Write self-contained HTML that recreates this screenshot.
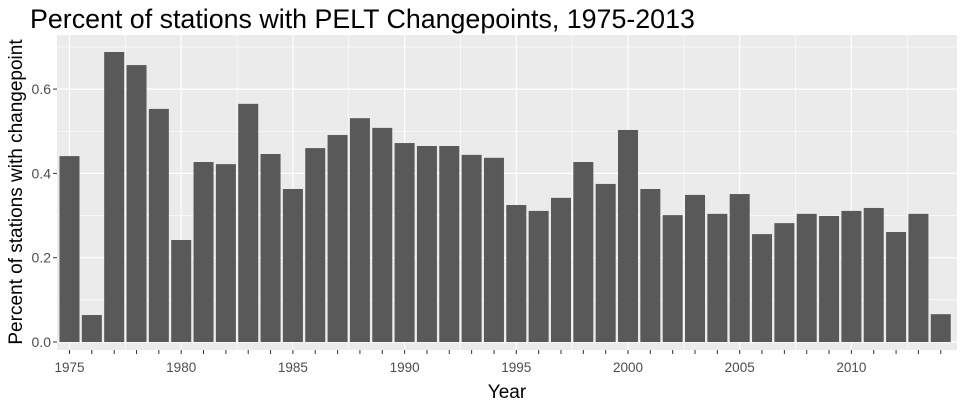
<!DOCTYPE html>
<html><head><meta charset="utf-8"><style>
body{margin:0;background:#fff}
svg{display:block;font-family:"Liberation Sans",sans-serif}
</style></head><body>
<svg id="chart" width="963" height="408">
<text x="30" y="28" font-size="26.8" fill="#000">Percent of stations with PELT Changepoints, 1975-2013</text>
<rect x="57" y="35" width="900" height="315" fill="#ebebeb"/>
<g id="grid"></g><g id="bars"></g><g id="axes"></g>
<text x="507" y="398" font-size="19" text-anchor="middle" fill="#000">Year</text>
<text transform="translate(22,192) rotate(-90)" font-size="19" text-anchor="middle" fill="#000">Percent of stations with changepoint</text>
</svg>
<script>
const years=[1975,1976,1977,1978,1979,1980,1981,1982,1983,1984,1985,1986,1987,1988,1989,1990,1991,1992,1993,1994,1995,1996,1997,1998,1999,2000,2001,2002,2003,2004,2005,2006,2007,2008,2009,2010,2011,2012,2013,2014];
const values=[0.441,0.064,0.688,0.657,0.553,0.242,0.427,0.422,0.565,0.446,0.363,0.46,0.491,0.531,0.508,0.472,0.465,0.465,0.444,0.437,0.325,0.311,0.342,0.427,0.375,0.503,0.363,0.301,0.349,0.304,0.351,0.256,0.282,0.304,0.299,0.311,0.318,0.261,0.304,0.066];
const yTicks=[0,0.2,0.4,0.6];
const xTicks=[1975,1980,1985,1990,1995,2000,2005,2010];
const NS="http://www.w3.org/2000/svg";
const X=y=>69.5+(y-1975)*22.34;
const Y=v=>342-v*421.5;
function mk(tag,attrs,parent){const e=document.createElementNS(NS,tag);for(const k in attrs)e.setAttribute(k,attrs[k]);document.getElementById(parent).appendChild(e);return e;}
for(let v=0.1;v<0.75;v+=0.2){const l=mk('line',{x1:57,x2:957,y1:Y(v),y2:Y(v),stroke:'#fff','stroke-width':0.6},'grid');

}
for(const t of yTicks){const l=mk('line',{x1:57,x2:957,y1:Y(t),y2:Y(t),stroke:'#fff','stroke-width':1.2},'grid');


const tx=mk('text',{x:51,y:Y(t)+5,'font-size':14,'text-anchor':'end',fill:'#4d4d4d'},'axes');tx.textContent=t.toFixed(1);


const tk=mk('line',{x1:53,x2:57,y1:Y(t),y2:Y(t),stroke:'#333'},'axes');

}
for(const t of xTicks){const l=mk('line',{x1:X(t),x2:X(t),y1:35,y2:350,stroke:'#fff','stroke-width':1.2},'grid');


const l2=mk('line',{x1:X(t+2.5),x2:X(t+2.5),y1:35,y2:350,stroke:'#fff','stroke-width':0.6},'grid');


const tx=mk('text',{x:X(t),y:372,'font-size':13.5,'text-anchor':'middle',fill:'#4d4d4d'},'axes');tx.textContent=t;

}
years.forEach((yr,i)=>{const r=mk('rect',{x:X(yr)-10,y:Y(values[i]),width:20,height:Y(0)-Y(values[i]),fill:'#595959'},'bars');


const tk=mk('line',{x1:X(yr),x2:X(yr),y1:350,y2:354,stroke:'#333'},'axes');

});
</script>
</body></html>
